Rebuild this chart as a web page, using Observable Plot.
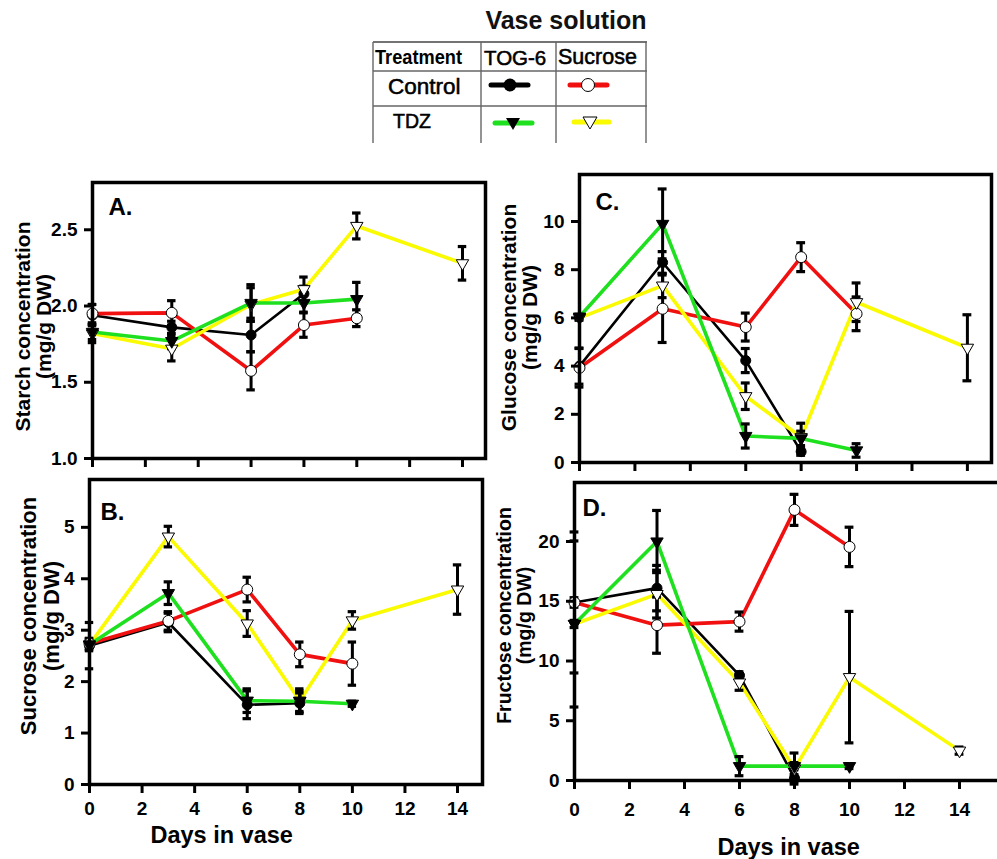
<!DOCTYPE html>
<html><head><meta charset="utf-8">
<script src="https://cdn.jsdelivr.net/npm/d3@7"></script>
<script src="https://cdn.jsdelivr.net/npm/@observablehq/plot@0.6"></script>
<style>
html,body{margin:0;padding:0;background:#fff;overflow:hidden;}
#root{position:relative;width:997px;height:859px;overflow:hidden;font-family:"Liberation Sans",Arial,sans-serif;}
.panel{position:absolute;}
.panel svg{max-width:none !important;display:block;}
#legend{position:absolute;left:0;top:0;}
</style></head><body><div id="root"></div>
<script>
// ---------- data ----------
const days = [0, 3, 6, 8, 10, 14];
const xTicks = [0, 2, 4, 6, 8, 10, 12, 14];

// A. Starch
const starchCtrlTog = [1.94, 1.86, 1.81, 2.08];
const starchCtrlTogErr = [0.07, 0.04, 0.11, 0.05];
const starchCtrlSuc = [1.95, 1.955, 1.575, 1.875, 1.92];
const starchCtrlSucErr = [0.06, 0.08, 0.125, 0.08, 0.055];
const starchTdzTog = [1.83, 1.77, 2.02, 2.02, 2.045];
const starchTdzTogErr = [0.05, 0.05, 0.12, 0.06, 0.11];
const starchTdzSuc = [1.82, 1.72, 2.01, 2.11, 2.525, 2.28];
const starchTdzSucErr = [0.06, 0.08, 0.11, 0.08, 0.085, 0.11];

// B. Sucrose
const sucroseCtrlTog = [2.70, 3.15, 1.55, 1.58];
const sucroseCtrlTogErr = [0.45, 0.18, 0.27, 0.2];
const sucroseCtrlSuc = [2.74, 3.18, 3.79, 2.53, 2.35];
const sucroseCtrlSucErr = [0.1, 0.18, 0.24, 0.24, 0.42];
const sucroseTdzTog = [2.72, 3.72, 1.63, 1.62, 1.57];
const sucroseTdzTogErr = [0.1, 0.22, 0.23, 0.2, 0.05];
const sucroseTdzSuc = [2.72, 4.82, 3.13, 1.63, 3.19, 3.79];
const sucroseTdzSucErr = [0.12, 0.2, 0.25, 0.23, 0.17, 0.48];

// C. Glucose
const glucoseCtrlTog = [4.0, 8.3, 4.23, 0.45];
const glucoseCtrlTogErr = [0.75, 0.45, 0.5, 0.15];
const glucoseCtrlSuc = [3.93, 6.38, 5.62, 8.52, 6.17];
const glucoseCtrlSucErr = [0.8, 1.4, 0.58, 0.6, 0.7];
const glucoseTdzTog = [6.05, 9.9, 1.1, 1.0, 0.5];
const glucoseTdzTogErr = [0.1, 1.45, 0.5, 0.3, 0.28];
const glucoseTdzSuc = [6.0, 7.34, 2.75, 1.05, 6.65, 4.76];
const glucoseTdzSucErr = [0.1, 0.5, 0.55, 0.58, 0.8, 1.37];

// D. Fructose
const fructoseCtrlTog = [14.9, 16.1, 8.8, 0.2];
const fructoseCtrlTogErr = [5.9, 1.9, 0.3, 0.3];
const fructoseCtrlSuc = [14.9, 13.0, 13.3, 22.65, 19.55];
const fructoseCtrlSucErr = [0.4, 2.35, 0.8, 1.3, 1.65];
const fructoseTdzTog = [13.1, 20.0, 1.2, 1.2, 1.2];
const fructoseTdzTogErr = [6.95, 2.6, 0.8, 0.3, 0.2];
const fructoseTdzSuc = [13.1, 15.6, 8.2, 1.0, 8.65, 2.5];
const fructoseTdzSucErr = [0.3, 2.0, 0.65, 1.3, 5.5, 0.3];

// ---------- styles ----------
const FONT = '"Liberation Sans", Arial, sans-serif';
const RED = "#f01010", GREEN = "#1ee01e", YELLOW = "#fafa00";
const seriesStyle = {
  ctrlTog: {color: "black", lw: 2.6, symbol: "circle", fill: "black", r: 5, rotate: 0},
  ctrlSuc: {color: RED, lw: 3.6, symbol: "circle", fill: "white", r: 5.5, rotate: 0},
  tdzSuc: {color: YELLOW, lw: 3.6, symbol: "triangle", fill: "white", r: 4.6, rotate: 180},
  tdzTog: {color: GREEN, lw: 3.6, symbol: "triangle", fill: "black", r: 4.6, rotate: 180}
};
const drawOrder = ["ctrlTog", "ctrlSuc", "tdzSuc", "tdzTog"];

function rows(vals, errs) {
  return vals.map((v, i) => ({day: days[i], v, e: errs[i]})).filter(d => d.v != null);
}

function panel(cfg) {
  const series = cfg.series;
  const marks = [];
  for (const k of drawOrder) {
    const s = seriesStyle[k];
    marks.push(Plot.line(series[k], {x: "day", y: "v", stroke: s.color, strokeWidth: s.lw, strokeLinejoin: "miter"}));
  }
  for (const k of drawOrder) {
    const data = series[k].filter(d => d.e > 0);
    marks.push(Plot.ruleX(data, {x: "day", y1: d => d.v - d.e, y2: d => d.v + d.e, stroke: "black", strokeWidth: 3}));
    marks.push(Plot.ruleY(data, {y: d => d.v + d.e, x1: d => d.day - 0.16, x2: d => d.day + 0.16, stroke: "black", strokeWidth: 3.2}));
    marks.push(Plot.ruleY(data, {y: d => d.v - d.e, x1: d => d.day - 0.16, x2: d => d.day + 0.16, stroke: "black", strokeWidth: 3.2}));
  }
  for (const k of drawOrder) {
    const s = seriesStyle[k];
    marks.push(Plot.dot(series[k], {x: "day", y: "v", symbol: s.symbol, r: s.r, fill: s.fill, stroke: "black", strokeWidth: 1, rotate: s.rotate}));
  }
  marks.push(Plot.frame({stroke: "black", strokeWidth: 3.5}));
  marks.push(Plot.axisY({ticks: cfg.yTicks, tickSize: 8, tickPadding: 7, strokeWidth: 3, tickFormat: cfg.yFmt, label: null, fontSize: 19, fontWeight: "bold"}));
  marks.push(Plot.axisX({ticks: xTicks, tickSize: 9, tickPadding: cfg.xPad || 8, strokeWidth: 3, tickFormat: cfg.xLabels ? d => String(d) : () => "", label: null, fontSize: 19, fontWeight: "bold"}));
  marks.push(Plot.text([cfg.letter], {frameAnchor: "top-left", textAnchor: "start", lineAnchor: "middle", dx: cfg.letterDx, dy: cfg.letterDy, fontSize: 24, fontWeight: "bold", fill: "black"}));
  marks.push(Plot.text([cfg.ylabel], {frameAnchor: "left", rotate: -90, textAnchor: "middle", lineAnchor: "middle", lineHeight: 1.02, dx: cfg.ylDx, dy: cfg.ylDy, fontSize: cfg.ylSize || 21, fontWeight: "bold", fill: "black"}));
  if (cfg.xLabels) {
    marks.push(Plot.text(["Days in vase"], {frameAnchor: "bottom-left", textAnchor: "start", lineAnchor: "middle", dx: cfg.xlDx, dy: cfg.xlDy, fontSize: 23.5, fontWeight: "bold", fill: "black"}));
  }
  const chart = Plot.plot({
    width: cfg.width, height: cfg.height,
    marginLeft: cfg.ml, marginRight: cfg.mr, marginTop: cfg.mt, marginBottom: cfg.mb,
    x: {domain: cfg.xDomain},
    y: {domain: cfg.yDomain},
    style: {fontFamily: FONT, fontSize: "19px", fontWeight: "bold", color: "black", background: "transparent", overflow: "visible"},
    marks
  });
  const div = document.createElement("div");
  div.className = "panel";
  div.style.left = cfg.left + "px";
  div.style.top = cfg.top + "px";
  div.style.width = cfg.width + "px";
  div.style.height = cfg.height + "px";
  div.appendChild(chart);
  document.getElementById("root").appendChild(div);
}

panel({
  left: 0, top: 160, width: 500, height: 330, ml: 92, mr: 15, mt: 22, mb: 32,
  xDomain: [0, 14.87], yDomain: [1.0, 2.81], yTicks: [1.0, 1.5, 2.0, 2.5], yFmt: d3.format(".1f"),
  xLabels: false, letter: "A.", letterDx: 16, letterDy: 25,
  ylabel: "Starch concentration\n(mg/g DW)", ylDx: -59, ylDy: 6,
  series: {
    ctrlTog: rows(starchCtrlTog, starchCtrlTogErr), ctrlSuc: rows(starchCtrlSuc, starchCtrlSucErr),
    tdzTog: rows(starchTdzTog, starchTdzTogErr), tdzSuc: rows(starchTdzSuc, starchTdzSucErr)
  }
});
panel({
  left: 0, top: 460, width: 495, height: 399, ml: 89, mr: 13, mt: 19, mb: 75,
  xDomain: [0, 14.95], yDomain: [0, 5.93], yTicks: [0, 1, 2, 3, 4, 5], yFmt: d3.format("d"),
  xLabels: true, xPad: 8, letter: "B.", letterDx: 11, letterDy: 33,
  ylabel: "Sucrose concentration\n(mg/g DW)", ylDx: -49, ylDy: -16, ylSize: 22,
  xlDx: 61, xlDy: 51,
  series: {
    ctrlTog: rows(sucroseCtrlTog, sucroseCtrlTogErr), ctrlSuc: rows(sucroseCtrlSuc, sucroseCtrlSucErr),
    tdzTog: rows(sucroseTdzTog, sucroseTdzTogErr), tdzSuc: rows(sucroseTdzSuc, sucroseTdzSucErr)
  }
});
panel({
  left: 490, top: 160, width: 507, height: 320, ml: 89, mr: 6, mt: 14, mb: 18,
  xDomain: [0, 14.87], yDomain: [0, 11.95], yTicks: [0, 2, 4, 6, 8, 10], yFmt: d3.format("d"),
  xLabels: false, letter: "C.", letterDx: 16, letterDy: 28,
  ylabel: "Glucose concentration\n(mg/g DW)", ylDx: -60, ylDy: -1,
  series: {
    ctrlTog: rows(glucoseCtrlTog, glucoseCtrlTogErr), ctrlSuc: rows(glucoseCtrlSuc, glucoseCtrlSucErr),
    tdzTog: rows(glucoseTdzTog, glucoseTdzTogErr), tdzSuc: rows(glucoseTdzSuc, glucoseTdzSucErr)
  }
});
panel({
  left: 490, top: 470, width: 512, height: 389, ml: 84, mr: 2, mt: 12, mb: 79,
  xDomain: [0, 15.49], yDomain: [0, 24.94], yTicks: [0, 5, 10, 15, 20], yFmt: d3.format("d"),
  xLabels: true, xPad: 13, letter: "D.", letterDx: 8, letterDy: 26,
  ylabel: "Fructose concentration\n(mg/g DW)", ylDx: -60, ylDy: -16, ylSize: 19.5,
  xlDx: 143, xlDy: 67,
  series: {
    ctrlTog: rows(fructoseCtrlTog, fructoseCtrlTogErr), ctrlSuc: rows(fructoseCtrlSuc, fructoseCtrlSucErr),
    tdzTog: rows(fructoseTdzTog, fructoseTdzTogErr), tdzSuc: rows(fructoseTdzSuc, fructoseTdzSucErr)
  }
});

// ---------- legend (table) ----------
const NS = "http://www.w3.org/2000/svg";
const lg = document.createElementNS(NS, "svg");
lg.setAttribute("id", "legend");
lg.setAttribute("width", 997); lg.setAttribute("height", 150);
lg.style.fontFamily = FONT;
function el(tag, attrs, text) {
  const e = document.createElementNS(NS, tag);
  for (const k in attrs) e.setAttribute(k, attrs[k]);
  if (text != null) e.textContent = text;
  lg.appendChild(e);
  return e;
}
el("text", {x: 566, y: 20, "text-anchor": "middle", "dominant-baseline": "central", "font-size": 25, "font-weight": "bold", fill: "#111"}, "Vase solution");
el("line", {x1: 373, x2: 647, y1: 42, y2: 42, stroke: "#444", "stroke-width": 1.6});
el("line", {x1: 373, x2: 647, y1: 71, y2: 71, stroke: "#666", "stroke-width": 1.4});
el("line", {x1: 373, x2: 647, y1: 106, y2: 106, stroke: "#666", "stroke-width": 1.4});
for (const x of [373, 481, 556, 646]) el("line", {x1: x, x2: x, y1: 42, y2: 143, stroke: "#666", "stroke-width": 1.4});
el("text", {x: 375, y: 57, "dominant-baseline": "central", "font-size": 19.5, "font-weight": "bold", textLength: 87, lengthAdjust: "spacingAndGlyphs", fill: "#000"}, "Treatment");
const med = {fill: "#000", stroke: "#000", "stroke-width": 0.55, "dominant-baseline": "central"};
el("text", {x: 484, y: 57, "font-size": 20.5, ...med}, "TOG-6");
el("text", {x: 558, y: 57, "font-size": 21.5, ...med}, "Sucrose");
el("text", {x: 388, y: 86, "font-size": 22.5, ...med}, "Control");
el("text", {x: 393, y: 121, "font-size": 19.5, ...med}, "TDZ");
el("line", {x1: 491, x2: 528, y1: 85, y2: 85, stroke: "black", "stroke-width": 5, "stroke-linecap": "round"});
el("circle", {cx: 510, cy: 85, r: 6.5, fill: "black"});
el("line", {x1: 570, x2: 607, y1: 85, y2: 85, stroke: RED, "stroke-width": 5, "stroke-linecap": "round"});
el("circle", {cx: 588, cy: 85, r: 6.5, fill: "white", stroke: "black", "stroke-width": 1});
el("line", {x1: 495, x2: 532, y1: 123, y2: 123, stroke: GREEN, "stroke-width": 5, "stroke-linecap": "round"});
el("path", {d: "M506,118 L520,118 L513,130 Z", fill: "black"});
el("line", {x1: 574, x2: 609, y1: 122, y2: 122, stroke: YELLOW, "stroke-width": 5, "stroke-linecap": "round"});
el("path", {d: "M583,117 L597,117 L590,129 Z", fill: "white", stroke: "black", "stroke-width": 1});
document.getElementById("root").appendChild(lg);
</script>
</body></html>
